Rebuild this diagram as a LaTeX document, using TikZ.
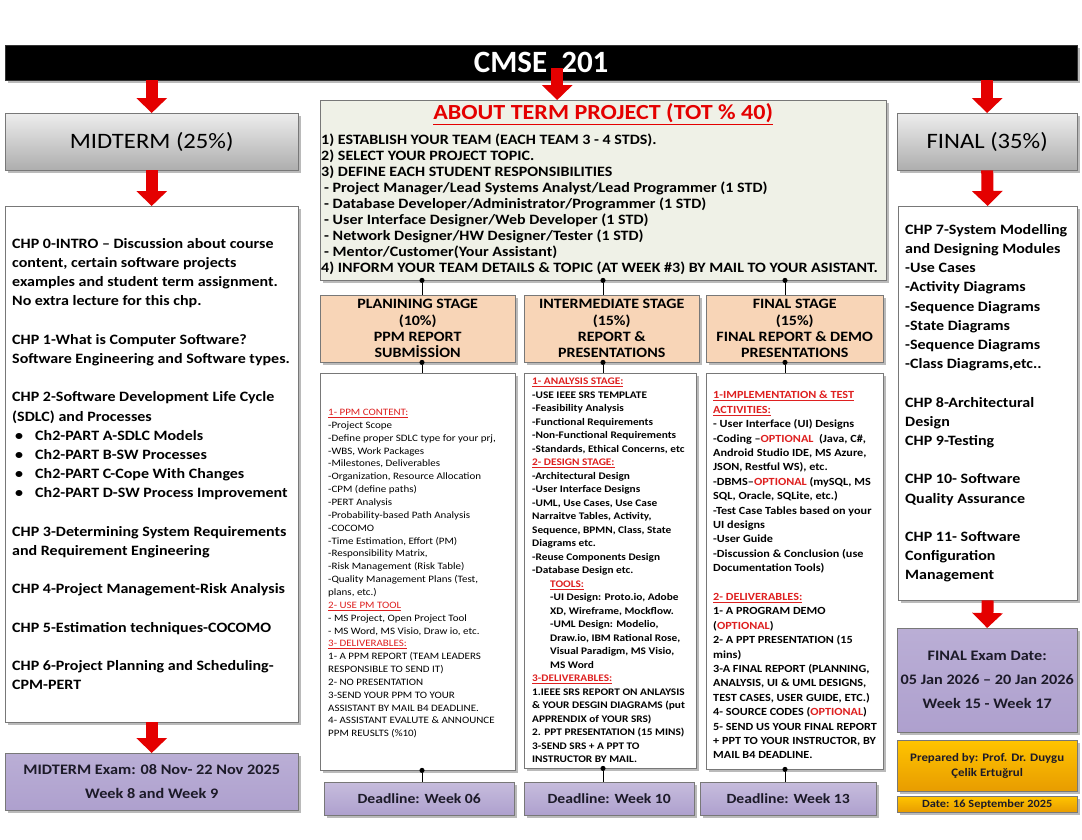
\documentclass[tikz,border=0pt]{standalone}
\usepackage{fontspec}
\setmainfont{Carlito}[FakeStretch=1.12]
\newfontfamily\plainfont{Carlito}
\usepackage{tikz}
\usetikzlibrary{arrows.meta,positioning,shadows}
\definecolor{arrowred}{RGB}{228,0,0}
\definecolor{headred}{RGB}{222,32,32}
\definecolor{aboutfill}{RGB}{239,241,231}
\definecolor{peach}{RGB}{248,213,183}
\definecolor{lilac}{RGB}{174,160,206}
\definecolor{gold}{RGB}{255,196,0}
\definecolor{golddark}{RGB}{232,156,0}
\definecolor{boxgray}{RGB}{120,120,120}
\definecolor{inkdark}{RGB}{28,26,40}
\newcommand{\fs}[2]{\fontsize{#1}{#2}\selectfont}
\newcommand{\redhead}[1]{\textcolor{headred}{\underline{#1}}}
\newcommand{\opt}{\textcolor{headred}{OPTIONAL}}
\newcommand{\itembul}{\hspace*{3pt}\makebox[20pt][l]{\textbullet}}
\newcommand{\toolind}{\hspace*{18pt}}
\tikzset{
  boxshadow/.style={drop shadow={shadow xshift=2.5pt, shadow yshift=-2.5pt,
                    fill=black!45, opacity=0.6}},
  titlebar/.style={anchor=north west, fill=black, draw=black!80,
                   minimum width=1072pt, minimum height=35pt, inner sep=0pt,
                   text=white, font=\plainfont\bfseries\fs{31}{31}, boxshadow},
  greyhead/.style={anchor=north west, draw=boxgray, top color=black!7,
                   bottom color=black!32, minimum width=293pt,
                   minimum height=57pt, font=\fs{22}{22}, boxshadow},
  bodybox/.style={anchor=north west, draw=boxgray, fill=white, boxshadow},
  bodytext/.style={align=left, inner sep=0pt, font=\bfseries\fs{14.3}{19.2}},
  aboutbox/.style={anchor=north west, draw=boxgray, fill=aboutfill,
                   minimum width=566pt, minimum height=180pt, boxshadow},
  stagehead/.style={anchor=north west, draw=boxgray, fill=peach,
                    minimum height=67pt, align=center, inner sep=0pt,
                    font=\bfseries\fs{14.3}{16.3}, boxshadow},
  duebox/.style={anchor=north west, draw=boxgray, top color=lilac!70!white,
                 bottom color=lilac, minimum height=33pt, inner sep=0pt,
                 font=\bfseries\fs{14}{14}, text=inkdark, boxshadow},
  exambox/.style={anchor=north west, draw=boxgray, top color=lilac!85!white,
                  bottom color=lilac, align=center, inner sep=0pt,
                  font=\bfseries\fs{14.5}{24}, text=inkdark, boxshadow},
  goldbox/.style={anchor=north west, draw=boxgray, top color=gold,
                  bottom color=golddark, minimum width=180pt, align=center,
                  inner sep=0pt, text=inkdark, boxshadow},
  bigarrow/.style={line width=12pt, draw=arrowred,
                   -{Triangle[length=15pt, width=30pt]}},
  dotlink/.style={draw=black, line width=0.8pt, {Circle[length=5pt]}-,
                  shorten <=-2.5pt}
}
\begin{document}
\begin{tikzpicture}[x=1pt, y=-1pt]
  \path[use as bounding box, fill=white] (0,0) rectangle (1082,839);

  \node[titlebar] (title) at (5,45) {CMSE\ \ 201};

  \node[greyhead] (midhead) at (5,113) {MIDTERM (25\%)};
  \node[greyhead, minimum width=180pt] (finhead) at (897,113) {FINAL (35\%)};

  \node[aboutbox] (about) at (320,100) {};
  \node[below=3pt of about.north, inner sep=0pt, text=arrowred,
        font=\bfseries\fs{21.5}{21.5}] (abouttitle)
        {\underline{ABOUT TERM PROJECT (TOT \% 40)}};
  \node[anchor=north west, align=left, inner sep=0pt,
        font=\bfseries\fs{14.3}{16}] (aboutlist)
        at ([shift={(1,34)}]about.north west)
        {1) ESTABLISH YOUR TEAM (EACH TEAM 3 - 4 STDS).\\
         2) SELECT YOUR PROJECT TOPIC.\\
         3) DEFINE EACH STUDENT RESPONSIBILITIES\\
         \hspace*{3pt}- Project Manager/Lead Systems Analyst/Lead Programmer (1 STD)\\
         \hspace*{3pt}- Database Developer/Administrator/Programmer (1 STD)\\
         \hspace*{3pt}- User Interface Designer/Web Developer (1 STD)\\
         \hspace*{3pt}- Network Designer/HW Designer/Tester (1 STD)\\
         \hspace*{3pt}- Mentor/Customer(Your Assistant)\\
         4) INFORM YOUR TEAM DETAILS \& TOPIC (AT WEEK \#3) BY MAIL TO YOUR ASISTANT.};

  \node[bodybox, minimum width=293pt, minimum height=516pt] (midbody) at (5,206) {};
  \node[bodytext, right=7pt of midbody.west] (midlist)
        {CHP 0-INTRO – Discussion about course\\
         content, certain software projects\\
         examples and student term assignment.\\
         No extra lecture for this chp.\\
         \mbox{}\\
         CHP 1-What is Computer Software?\\
         Software Engineering and Software types.\\
         \mbox{}\\
         CHP 2-Software Development Life Cycle\\
         (SDLC) and Processes\\
         \itembul Ch2-PART A-SDLC Models\\
         \itembul Ch2-PART B-SW Processes\\
         \itembul Ch2-PART C-Cope With Changes\\
         \itembul Ch2-PART D-SW Process Improvement\\
         \mbox{}\\
         CHP 3-Determining System Requirements\\
         and Requirement Engineering\\
         \mbox{}\\
         CHP 4-Project Management-Risk Analysis\\
         \mbox{}\\
         CHP 5-Estimation techniques-COCOMO\\
         \mbox{}\\
         CHP 6-Project Planning and Scheduling-\\
         CPM-PERT};

  \node[bodybox, minimum width=179pt, minimum height=394pt] (finbody) at (898,206) {};
  \node[bodytext, right=7pt of finbody.west] (finlist)
        {CHP 7-System Modelling\\
         and Designing Modules\\
         -Use Cases\\
         -Activity Diagrams\\
         -Sequence Diagrams\\
         -State Diagrams\\
         -Sequence Diagrams\\
         -Class Diagrams,etc..\\
         \mbox{}\\
         CHP 8-Architectural\\
         Design\\
         CHP 9-Testing\\
         \mbox{}\\
         CHP 10- Software\\
         Quality Assurance\\
         \mbox{}\\
         CHP 11- Software\\
         Configuration\\
         Management};

  \node[stagehead, minimum width=195pt] (planhead) at (320,295)
        {PLANINING STAGE\\(10\%)\\PPM REPORT\\SUBMİSSİON};
  \node[stagehead, minimum width=175pt] (interhead) at (524,295)
        {INTERMEDIATE STAGE\\(15\%)\\REPORT \&\\PRESENTATIONS};
  \node[stagehead, minimum width=177pt] (closehead) at (706,295)
        {FINAL STAGE\\(15\%)\\FINAL REPORT \& DEMO\\PRESENTATIONS};

  \node[bodybox, minimum width=195pt, minimum height=397pt] (planbody) at (320,373) {};
  \node[bodytext, font=\fs{9.8}{12.85}, right=8pt of planbody.west, yshift=-2pt] (planlist)
        {\redhead{1- PPM CONTENT:}\\
         -Project Scope\\
         -Define proper SDLC type for your prj,\\
         -WBS, Work Packages\\
         -Milestones, Deliverables\\
         -Organization, Resource Allocation\\
         -CPM (define paths)\\
         -PERT Analysis\\
         -Probability-based Path Analysis\\
         -COCOMO\\
         -Time Estimation, Effort (PM)\\
         -Responsibility Matrix,\\
         -Risk Management (Risk Table)\\
         -Quality Management Plans (Test,\\
         plans, etc.)\\
         \redhead{2- USE PM TOOL}\\
         - MS Project, Open Project Tool\\
         - MS Word, MS Visio, Draw io, etc.\\
         \redhead{3- DELIVERABLES:}\\
         1- A PPM REPORT (TEAM LEADERS\\
         RESPONSIBLE TO SEND IT)\\
         2- NO PRESENTATION\\
         3-SEND YOUR PPM TO YOUR\\
         ASSISTANT BY MAIL B4 DEADLINE.\\
         4- ASSISTANT EVALUTE \& ANNOUNCE\\
         PPM REUSLTS (\%10)};

  \node[bodybox, minimum width=172pt, minimum height=395pt] (interbody) at (524,373) {};
  \node[bodytext, font=\bfseries\fs{10.1}{13.5}, right=8pt of interbody.west] (interlist)
        {\redhead{1- ANALYSIS STAGE:}\\
         -USE IEEE SRS TEMPLATE\\
         -Feasibility Analysis\\
         -Functional Requirements\\
         -Non-Functional Requirements\\
         -Standards, Ethical Concerns, etc\\
         \redhead{2- DESIGN STAGE:}\\
         -Architectural Design\\
         -User Interface Designs\\
         -UML, Use Cases, Use Case\\
         Narraitve Tables, Activity,\\
         Sequence, BPMN, Class, State\\
         Diagrams etc.\\
         -Reuse Components Design\\
         -Database Design etc.\\
         \toolind\redhead{TOOLS:}\\
         \toolind -UI Design: Proto.io, Adobe\\
         \toolind XD, Wireframe, Mockflow.\\
         \toolind -UML Design: Modelio,\\
         \toolind Draw.io, IBM Rational Rose,\\
         \toolind Visual Paradigm, MS Visio,\\
         \toolind MS Word\\
         \redhead{3-DELIVERABLES:}\\
         1.IEEE SRS REPORT ON ANLAYSIS\\
         \& YOUR DESGIN DIAGRAMS (put\\
         APPRENDIX of YOUR SRS)\\
         2. PPT PRESENTATION (15 MINS)\\
         3-SEND SRS + A PPT TO\\
         INSTRUCTOR BY MAIL.};

  \node[bodybox, minimum width=177pt, minimum height=396pt] (closebody) at (706,373) {};
  \node[bodytext, font=\bfseries\fs{10.9}{14.4}, right=7pt of closebody.west, yshift=-4pt] (closelist)
        {\redhead{1-IMPLEMENTATION \& TEST}\\
         \redhead{ACTIVITIES:}\\
         - User Interface (UI) Designs\\
         -Coding –\opt\ \ (Java, C\#,\\
         Android Studio IDE, MS Azure,\\
         JSON, Restful WS), etc.\\
         -DBMS–\opt\ (mySQL, MS\\
         SQL, Oracle, SQLite, etc.)\\
         -Test Case Tables based on your\\
         UI designs\\
         -User Guide\\
         -Discussion \& Conclusion (use\\
         Documentation Tools)\\
         \mbox{}\\
         \redhead{2- DELIVERABLES:}\\
         1- A PROGRAM DEMO\\
         (\opt)\\
         2- A PPT PRESENTATION (15\\
         mins)\\
         3-A FINAL REPORT (PLANNING,\\
         ANALYSIS, UI \& UML DESIGNS,\\
         TEST CASES, USER GUIDE, ETC.)\\
         4- SOURCE CODES (\opt)\\
         5- SEND US YOUR FINAL REPORT\\
         + PPT TO YOUR INSTRUCTOR, BY\\
         MAIL B4 DEADLINE.};

  \node[duebox, minimum width=190pt] (plandue) at (324,782) {Deadline: Week 06};
  \node[duebox, minimum width=170pt] (interdue) at (524,782) {Deadline: Week 10};
  \node[duebox, minimum width=176pt] (closedue) at (700,782) {Deadline: Week 13};

  \node[exambox, minimum width=293pt, minimum height=57pt] (midexam) at (5,753)
        {MIDTERM Exam: 08 Nov- 22 Nov 2025\\Week 8 and Week 9};
  \node[exambox, minimum width=180pt, minimum height=104pt] (finexam) at (897,628)
        {FINAL Exam Date:\\05 Jan 2026 – 20 Jan 2026\\Week 15 - Week 17};
  \node[goldbox, minimum height=51pt, font=\bfseries\fs{11.5}{15}] (prepared) at (897,740)
        {Prepared by: Prof. Dr. Duygu\\Çelik Ertuğrul};
  \node[goldbox, minimum height=16pt, font=\bfseries\fs{11}{11}] (datebox) at (897,796)
        {Date: 16 September 2025};

  \coordinate (planaxis) at (422,0);
  \coordinate (interaxis) at (603,0);
  \coordinate (closeaxis) at (785,0);

  \draw[dotlink] (planaxis |- about.south) -- (planaxis |- planhead.north);
  \draw[dotlink] (interaxis |- about.south) -- (interaxis |- interhead.north);
  \draw[dotlink] (closeaxis |- about.south) -- (closeaxis |- closehead.north);
  \draw[dotlink] (planaxis |- planhead.south) -- (planaxis |- planbody.north);
  \draw[dotlink] (interaxis |- interhead.south) -- (interaxis |- interbody.north);
  \draw[dotlink] (closeaxis |- closehead.south) -- (closeaxis |- closebody.north);
  \draw[dotlink] (planaxis |- planbody.south) -- (planaxis |- plandue.north);
  \draw[dotlink] (interaxis |- interbody.south) -- (interaxis |- interdue.north);
  \draw[dotlink] (closeaxis |- closebody.south) -- (closeaxis |- closedue.north);

  \draw[bigarrow] (title.south -| midhead.north) -- (midhead.north);
  \draw[bigarrow] ([shift={(-46,-32)}]about.north) -- ([xshift=-46pt]about.north);
  \draw[bigarrow] (title.south -| finhead.north) -- (finhead.north);
  \draw[bigarrow] (midhead.south) -- (midbody.north);
  \draw[bigarrow] (finhead.south) -- (finbody.north);
  \draw[bigarrow] (midbody.south) -- (midexam.north);
  \draw[bigarrow] (finbody.south) -- (finexam.north);
\end{tikzpicture}
\end{document}
